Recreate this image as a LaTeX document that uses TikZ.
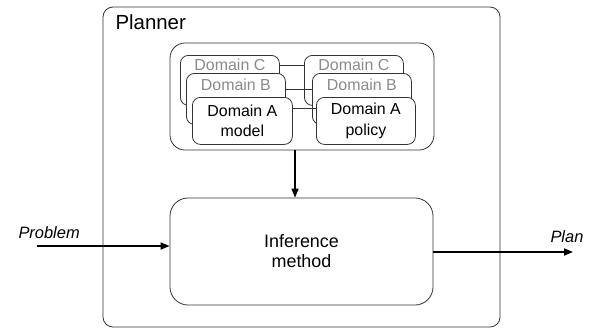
\documentclass[tikz,border=0pt]{standalone}
\usepackage{fontspec}
\setmainfont{Liberation Sans}
\usepackage{tikz}
\usetikzlibrary{positioning, arrows.meta, calc}
\usepackage{xcolor}
\definecolor{plnline}{HTML}{333333}
\definecolor{plngray}{HTML}{8A8A8A}

\tikzset{
  domainbox/.style={draw=plnline, fill=white, rounded corners=8bp, line width=0.8bp,
    minimum width=99bp, minimum height=47bp, align=center, inner sep=0pt,
    font=\fontsize{16}{20.5}\selectfont},
  backbox/.style={domainbox, text=plngray, minimum height=0pt,
    text height=12bp, text depth=32bp, inner ysep=3bp},
  flow/.style={line width=1.6bp, -{Triangle[length=9bp,width=7bp]}},
}

\begin{document}
\begin{tikzpicture}[x=1bp, y=-1bp, font=\fontsize{16}{18}\selectfont]
\useasboundingbox (0,0) rectangle (592,329);

% outer planner frame
\node[draw=plnline, line width=0.8bp, rounded corners=10bp, minimum width=397bp,
  minimum height=320bp, inner sep=0pt] (planner) at (301.5,167) {};
\node[anchor=base west, font=\fontsize{20.5}{22}\selectfont] (plannerlbl) at (112,29) {Planner};

% knowledge container
\node[draw=plnline, line width=0.8bp, rounded corners=15bp, minimum width=264bp,
  minimum height=107bp, inner sep=0pt] (models) at (302,96.5) {};

% stacked domains: C at the back, A in front
\node[backbox, anchor=north west] (cmodel) at (180,55) {Domain C};
\node[backbox, anchor=north west] (cpolicy) at (304,55) {Domain C};
\draw[plnline, line width=0.8bp] ([yshift=-10bp]cmodel.north east) -- ([yshift=-10bp]cpolicy.north west);

\node[backbox, anchor=north west, inner ysep=5bp, text depth=29bp] (bmodel) at (186,73) {Domain B};
\node[backbox, anchor=north west, inner ysep=5bp, text depth=29bp] (bpolicy) at (312,73) {Domain B};
\draw[plnline, line width=0.8bp] ([yshift=-16bp]bmodel.north east) -- ([yshift=-16bp]bpolicy.north west);

\node[domainbox, anchor=north west, minimum width=100bp] (amodel) at (192,97) {Domain A\\model};
\node[domainbox, anchor=north west] (apolicy) at (316,97) {Domain A\\policy};
\draw[plnline, line width=0.8bp] ([yshift=-11bp]amodel.north east) -- ([yshift=-11bp]apolicy.north west);

% inference step
\node[draw=plnline, line width=0.8bp, rounded corners=18bp, minimum width=263bp,
  minimum height=107bp, align=center, font=\fontsize{18}{20}\selectfont] (infer) at (301.5,251.5)
  {Inference\\method};

\draw[flow] ([xshift=-7bp]models.south) -- ([xshift=-7bp]models.south |- infer.north);

% input and output
\coordinate (probin) at (37,246);
\coordinate (planout) at (573,252);
\draw[flow] (probin) -- (probin -| infer.west);
\draw[flow] (infer.east |- planout) -- (planout);
\node[anchor=base west, font=\fontsize{16.5}{18}\selectfont\itshape] (problbl) at (15,238) {Problem};
\node[anchor=base west, font=\fontsize{16.5}{18}\selectfont\itshape] (planlbl) at (547,242) {Plan};
\end{tikzpicture}
\end{document}
